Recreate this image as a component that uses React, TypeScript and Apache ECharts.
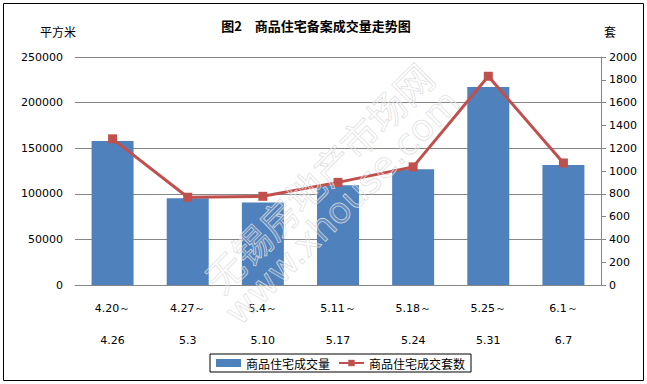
import React, { useEffect, useRef } from "react";
import * as echarts from "echarts";

const categories = ["4.20～\n\n4.26", "4.27～\n\n5.3", "5.4～\n\n5.10", "5.11～\n\n5.17", "5.18～\n\n5.24", "5.25～\n\n5.31", "6.1～\n\n6.7"];
const areaValues = [158000, 95000, 90500, 109500, 127000, 217000, 131500];
const unitValues = [1282, 770, 778, 900, 1036, 1831, 1070];
const leftTicks = { min: 0, max: 250000, interval: 50000 };
const rightTicks = { min: 0, max: 2000, interval: 200 };

const titleText = "图2　商品住宅备案成交量走势图";
const barName = "商品住宅成交量";
const lineName = "商品住宅成交套数";

export default function App() {
  const ref = useRef<HTMLDivElement>(null);
  useEffect(() => {
    if (!ref.current) return;
    const chart = echarts.init(ref.current, undefined, { renderer: "svg" });
    const numFont = "DejaVu Sans";
    const cjk = "'Noto Sans CJK SC', sans-serif";
    const plain = (v: number) => String(v);
    chart.setOption({
      animation: false,
      backgroundColor: "#fff",
      grid: { left: 75, right: 46, top: 57, bottom: 99 },
      legend: {
        left: 210,
        top: 354,
        orient: "horizontal",
        borderColor: "#000",
        borderWidth: 1,
        padding: [3, 6, 3, 6],
        itemGap: 8,
        itemWidth: 25,
        itemHeight: 8,
        textStyle: { fontSize: 12, fontFamily: cjk, color: "#000" },
        data: [
          { name: barName, icon: "rect" },
          { name: lineName },
        ],
      },
      xAxis: {
        type: "category",
        data: categories,
        axisLine: { lineStyle: { color: "#868686" } },
        axisTick: { show: false },
        axisLabel: {
          interval: 0,
          margin: 15,
          lineHeight: 16,
          fontSize: 11,
          fontFamily: numFont,
          color: "#000",
        },
      },
      yAxis: [
        {
          type: "value",
          min: leftTicks.min,
          max: leftTicks.max,
          interval: leftTicks.interval,
          axisLine: { show: false },
          axisTick: { show: false },
          splitLine: { lineStyle: { color: "#868686" } },
          axisLabel: { fontSize: 11, fontFamily: numFont, color: "#000", margin: 12, formatter: plain },
        },
        {
          type: "value",
          min: rightTicks.min,
          max: rightTicks.max,
          interval: rightTicks.interval,
          position: "right",
          axisLine: { show: true, lineStyle: { color: "#868686" } },
          axisTick: { show: true, length: 5, lineStyle: { color: "#868686" } },
          splitLine: { show: false },
          axisLabel: { fontSize: 11, fontFamily: numFont, color: "#000", margin: 8, formatter: plain },
        },
      ],
      series: [
        {
          name: barName,
          type: "bar",
          data: areaValues,
          barWidth: 42,
          itemStyle: { color: "#4F81BD" },
          yAxisIndex: 0,
        },
        {
          name: lineName,
          type: "line",
          data: unitValues,
          yAxisIndex: 1,
          symbol: "rect",
          symbolSize: 9,
          lineStyle: { color: "#C0504D", width: 3 },
          itemStyle: { color: "#C0504D" },
          z: 3,
        },
      ],
      graphic: [
        {
          type: "rect",
          shape: { x: 3.5, y: 3.5, width: 640, height: 377 },
          style: { fill: "none", stroke: "#000", lineWidth: 1 },
          z: 0,
          silent: true,
        },
        {
          type: "text",
          x: 316,
          y: 25,
          style: {
            text: titleText,
            font: "bold 13px " + cjk,
            fill: "#000",
            align: "center",
            verticalAlign: "middle",
          },
        },
        {
          type: "text",
          x: 58,
          y: 31,
          style: { text: "平方米", font: "12px " + cjk, fill: "#000", align: "center", verticalAlign: "middle" },
        },
        {
          type: "text",
          x: 610,
          y: 31,
          style: { text: "套", font: "12px " + cjk, fill: "#000", align: "center", verticalAlign: "middle" },
        },
        {
          type: "text",
          x: 318,
          y: 177,
          rotation: Math.PI / 4,
          z: 100,
          silent: true,
          style: {
            text: "无锡房地产市场网",
            font: "38px " + cjk,
            fill: "rgba(255,255,255,0.12)",
            stroke: "rgba(220,220,220,0.9)",
            lineWidth: 0.8,
            align: "center",
            verticalAlign: "middle",
          },
        },
        {
          type: "text",
          x: 342,
          y: 207,
          rotation: Math.PI / 4,
          z: 100,
          silent: true,
          style: {
            text: "www.xhouse.com",
            font: "36px 'DejaVu Sans', sans-serif",
            fill: "rgba(255,255,255,0.12)",
            stroke: "rgba(220,220,220,0.9)",
            lineWidth: 0.8,
            align: "center",
            verticalAlign: "middle",
          },
        },
      ],
    });
    return () => chart.dispose();
  }, []);
  return (
    <div
      ref={ref}
      style={{ position: "absolute", left: 0, top: 0, width: 647, height: 384 }}
    />
  );
}
